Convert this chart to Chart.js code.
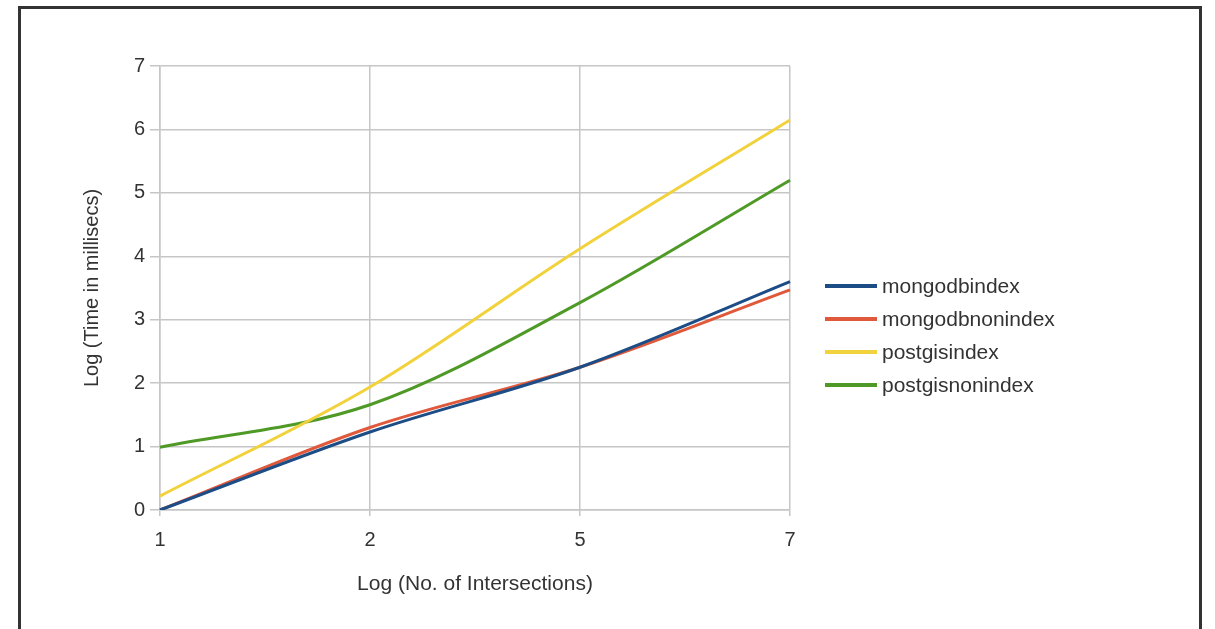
<!DOCTYPE html>
<html>
<head>
<meta charset="utf-8">
<script src="https://cdn.jsdelivr.net/npm/chart.js@4.4.1/dist/chart.umd.min.js"></script>
<style>
    html, body { margin: 0; padding: 0; background: #fff; overflow: hidden; }
    #wrap { position: relative; width: 1215px; height: 629px; }
    #frame {
        position: absolute; left: 18px; top: 6px; width: 1184px; height: 700px;
        border: 3px solid #333; box-sizing: border-box; pointer-events: none;
    }
    canvas { position: absolute; left: 0; top: 0; }
</style>
</head>
<body>
<div id="wrap">
    <canvas id="chart" width="1215" height="629"></canvas>
    <div id="frame"></div>
</div>
<script>
// Dữ liệu
const xLabels = ['1', '2', '5', '7'];
const mongodbIndex = [0, 1.23, 2.25, 3.6];
const mongodbNonIndex = [0, 1.3, 2.25, 3.47];
const postgisIndex = [0.22, 1.94, 4.12, 6.15];
const postgisNonIndex = [0.99, 1.66, 3.27, 5.2];

const seriesNames = ['mongodbindex', 'mongodbnonindex', 'postgisindex', 'postgisnonindex'];
const seriesColors = ['#1d4d86', '#e0593a', '#f2d23c', '#4f9a26'];

Chart.defaults.font.family = "'Liberation Sans', Arial, sans-serif";
Chart.defaults.color = '#333';

// Legend vẽ tay bên phải (giống bản gốc)
const sideLegend = {
    id: 'sideLegend',
    afterDraw(chart) {
        const ctx = chart.ctx;
        ctx.save();
        ctx.font = "21px 'Liberation Sans', Arial, sans-serif";
        ctx.textBaseline = 'middle';
        ctx.textAlign = 'left';
        chart.data.datasets.forEach((ds, i) => {
            const y = 286 + i * 33;
            ctx.strokeStyle = ds.borderColor;
            ctx.lineWidth = 4;
            ctx.beginPath();
            ctx.moveTo(825, y);
            ctx.lineTo(877, y);
            ctx.stroke();
            ctx.fillStyle = '#333';
            ctx.fillText(ds.label, 882, y + 1);
        });
        ctx.restore();
    }
};

const seriesData = [mongodbIndex, mongodbNonIndex, postgisIndex, postgisNonIndex];

new Chart(document.getElementById('chart'), {
    type: 'line',
    data: {
        labels: xLabels,
        datasets: seriesData.map((d, i) => ({
            label: seriesNames[i],
            data: d,
            borderColor: seriesColors[i],
            backgroundColor: seriesColors[i],
            borderWidth: 3,
            pointRadius: 0,
            tension: 0.4,
            cubicInterpolationMode: 'monotone',
            fill: false
        }))
    },
    options: {
        responsive: false,
        animation: false,
        layout: { padding: { left: 76, right: 425, top: 66, bottom: 28 } },
        plugins: {
            legend: { display: false },
            tooltip: { enabled: false }
        },
        scales: {
            x: {
                offset: false,
                grid: { color: '#c6c6c6', lineWidth: 1.5, tickLength: 6 },
                border: { color: '#c6c6c6', width: 1.5 },
                ticks: { font: { size: 20 }, padding: 12 },
                title: { display: true, text: 'Log (No. of Intersections)', font: { size: 21 } },
                afterFit: s => { s.height = 91; }
            },
            y: {
                min: 0, max: 7,
                ticks: { stepSize: 1, font: { size: 20 }, padding: 5 },
                grid: { color: '#c6c6c6', lineWidth: 1.5, tickLength: 10 },
                border: { color: '#c6c6c6', width: 1.5 },
                title: { display: true, text: 'Log (Time in millisecs)', font: { size: 20 } },
                afterFit: s => { s.width = 84; }
            }
        }
    },
    plugins: [sideLegend]
});
</script>
</body>
</html>
